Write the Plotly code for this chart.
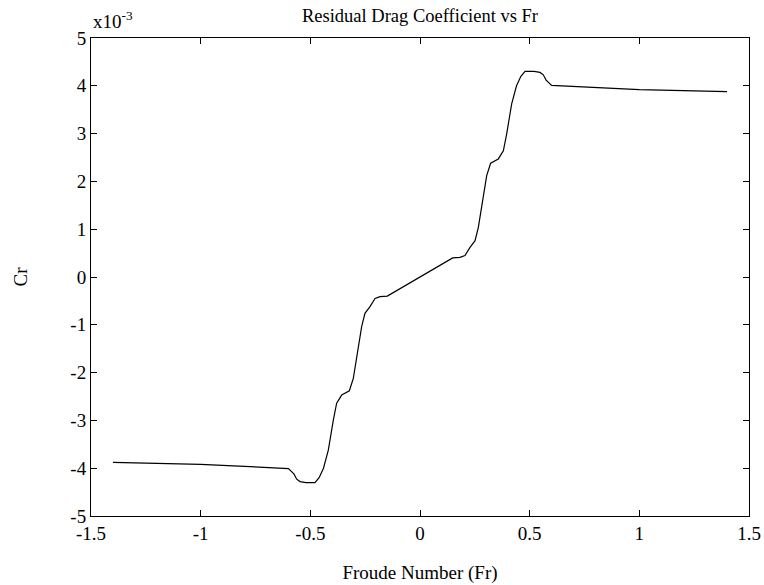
import plotly.graph_objects as go

# Froude number and residual drag coefficient (units of 1e-3)
fr = [-1.40, -1.20, -1.00, -0.80, -0.60, -0.575, -0.562, -0.547, -0.52, -0.479,
      -0.46, -0.44, -0.418, -0.395, -0.380, -0.357, -0.322, -0.304, -0.289,
      -0.266, -0.251, -0.228, -0.205, -0.182, -0.149,
      0.149, 0.182, 0.205, 0.228, 0.251, 0.266, 0.289, 0.304, 0.322, 0.357,
      0.380, 0.395, 0.418, 0.44, 0.46, 0.479, 0.52, 0.547, 0.562, 0.575,
      0.60, 0.80, 1.00, 1.20, 1.40]
cr = [-3.88, -3.90, -3.92, -3.96, -4.01, -4.12, -4.23, -4.28, -4.30, -4.30,
      -4.20, -4.00, -3.62, -2.99, -2.64, -2.47, -2.38, -2.12, -1.67,
      -1.04, -0.76, -0.62, -0.45, -0.41, -0.40,
      0.40, 0.41, 0.45, 0.62, 0.76, 1.04, 1.67, 2.12, 2.38, 2.47,
      2.64, 2.99, 3.62, 4.00, 4.20, 4.30, 4.30, 4.28, 4.23, 4.12,
      4.01, 3.96, 3.92, 3.90, 3.88]

x_ticks = [-1.5, -1, -0.5, 0, 0.5, 1, 1.5]
x_tick_labels = ["-1.5", "-1", "-0.5", "0", "0.5", "1", "1.5"]
y_ticks = [-5, -4, -3, -2, -1, 0, 1, 2, 3, 4, 5]
y_tick_labels = ["-5", "-4", "-3", "-2", "-1", "0", "1", "2", "3", "4", "5"]

family = "Liberation Serif, Times New Roman, serif"
font = dict(family=family, size=19, color="black")

fig = go.Figure()
fig.add_trace(go.Scatter(x=fr, y=cr, mode="lines",
                         line=dict(color="black", width=1.2), showlegend=False))

axis_common = dict(showgrid=False, zeroline=False, showline=True, linecolor="black",
                   linewidth=1, mirror="ticks", ticks="inside", ticklen=6,
                   tickcolor="black", tickfont=font, automargin=False)

fig.update_layout(
    width=764, height=585,
    paper_bgcolor="white", plot_bgcolor="white",
    margin=dict(l=91, r=15, t=38, b=69),
    font=font,
    title=dict(text="Residual Drag Coefficient vs Fr", x=0.5, xref="paper",
               y=1 - 16 / 585, yanchor="middle", font=dict(size=18.5, family=family)),
    xaxis=dict(range=[-1.5, 1.5], tickvals=x_ticks, ticktext=x_tick_labels,
               title=dict(text="Froude Number (Fr)", standoff=22,
                          font=dict(size=19, family=family)),
               **axis_common),
    yaxis=dict(range=[-5, 5], tickvals=y_ticks, ticktext=y_tick_labels,
               title=dict(text="Cr", standoff=37, font=dict(size=19, family=family)),
               **axis_common),
    annotations=[dict(text="x10<sup>-3</sup>", xref="paper", yref="paper",
                      x=0, y=1, xanchor="left", yanchor="bottom", yshift=4,
                      showarrow=False, font=dict(size=19, family=family))],
)

fig.write_html("out.html",
               config={"displayModeBar": False},
               post_script="document.body.style.margin='0';"
                           "document.body.style.overflow='hidden';")
